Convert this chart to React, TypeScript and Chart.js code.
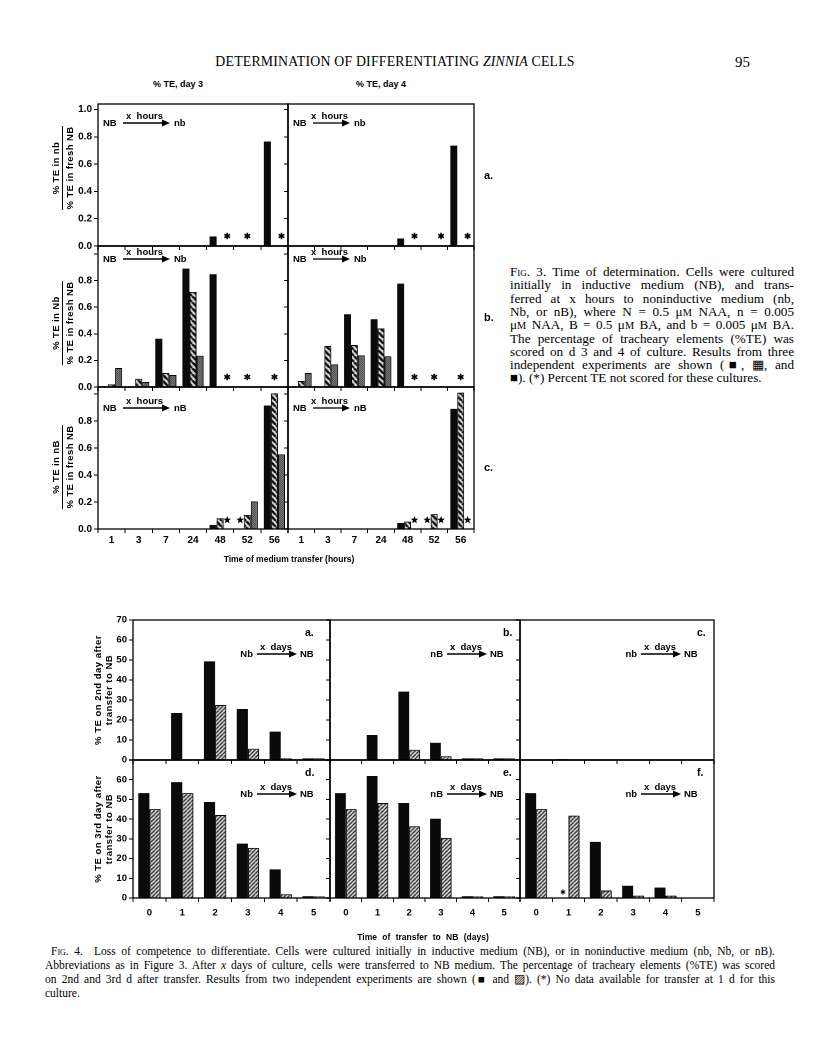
import React, { useEffect, useRef } from "react";
import { Chart, registerables } from "chart.js";
Chart.register(...registerables);

// ---------- categories & ticks ----------
const HOURS = ["1", "3", "7", "24", "48", "52", "56"];
const DAYS = ["0", "1", "2", "3", "4", "5"];
const F3_TICKS = [0, 0.2, 0.4, 0.6, 0.8, 1.0];
const F3_LABELS_A = [0, 0.2, 0.4, 0.6, 0.8, 1.0];
const F3_LABELS_BC = [0, 0.2, 0.4, 0.6, 0.8];
const F4_TICKS = [0, 10, 20, 30, 40, 50, 60, 70];
const F4_LABELS_TOP = [0, 10, 20, 30, 40, 50, 60, 70];
const F4_LABELS_BOTTOM = [0, 10, 20, 30, 40, 50, 60];

// ---------- Fig. 3 (fraction of %TE in fresh NB) ----------
// row a: NB -> nb
const f3aD3Black = [null, null, null, null, 0.07, null, 0.765];
const f3aD3Hatch = [null, null, null, null, null, null, null];
const f3aD3Stip = [null, null, null, null, null, null, null];
const f3aD3StarBlack = [0, 0, 0, 0, 0, 0, 0];
const f3aD3StarHatch = [0, 0, 0, 0, 0, 1, 0];
const f3aD3StarStip = [0, 0, 0, 0, 1, 0, 1];
const f3aD4Black = [null, null, null, null, 0.055, null, 0.735];
const f3aD4Hatch = [null, null, null, null, null, null, null];
const f3aD4Stip = [null, null, null, null, null, null, null];
const f3aD4StarBlack = [0, 0, 0, 0, 0, 0, 0];
const f3aD4StarHatch = [0, 0, 0, 0, 0, 0, 0];
const f3aD4StarStip = [0, 0, 0, 0, 1, 1, 1];
// row b: NB -> Nb
const f3bD3Black = [null, null, 0.363, 0.89, 0.848, null, null];
const f3bD3Hatch = [0.02, 0.062, 0.105, 0.715, null, null, null];
const f3bD3Stip = [0.143, 0.038, 0.09, 0.235, null, null, null];
const f3bD3StarBlack = [0, 0, 0, 0, 0, 0, 0];
const f3bD3StarHatch = [0, 0, 0, 0, 0, 1, 1];
const f3bD3StarStip = [0, 0, 0, 0, 1, 0, 0];
const f3bD4Black = [null, null, 0.547, 0.509, 0.777, null, null];
const f3bD4Hatch = [0.045, 0.308, 0.316, 0.441, null, null, null];
const f3bD4Stip = [0.105, 0.17, 0.238, 0.231, null, null, null];
const f3bD4StarBlack = [0, 0, 0, 0, 0, 0, 0];
const f3bD4StarHatch = [0, 0, 0, 0, 0, 1, 1];
const f3bD4StarStip = [0, 0, 0, 0, 1, 0, 0];
// row c: NB -> nB
const f3cD3Black = [null, null, null, null, 0.03, null, 0.915];
const f3cD3Hatch = [null, null, null, null, 0.08, 0.105, 1.005];
const f3cD3Stip = [null, null, null, null, null, 0.205, 0.553];
const f3cD3StarBlack = [0, 0, 0, 0, 0, 1, 0];
const f3cD3StarHatch = [0, 0, 0, 0, 0, 0, 0];
const f3cD3StarStip = [0, 0, 0, 0, 1, 0, 0];
const f3cD4Black = [null, null, null, null, 0.045, null, 0.89];
const f3cD4Hatch = [null, null, null, null, 0.055, 0.11, 1.01];
const f3cD4Stip = [null, null, null, null, null, null, null];
const f3cD4StarBlack = [0, 0, 0, 0, 0, 1, 0];
const f3cD4StarHatch = [0, 0, 0, 0, 0, 0, 0];
const f3cD4StarStip = [0, 0, 0, 0, 1, 1, 1];

// ---------- Fig. 4 (% TE) ----------
const f4aBlack = [null, 23.5, 49.3, 25.5, 14.2, 0.8];
const f4aHatch = [null, null, 27.5, 5.6, 0.8, 0.8];
const f4bBlack = [null, 12.5, 34.2, 8.6, 0.8, 0.8];
const f4bHatch = [null, null, 5.1, 1.9, 0.8, 0.8];
const f4cBlack = [null, 0.4, null, null, null, null];
const f4cHatch = [null, null, null, null, null, null];
const f4dBlack = [53.2, 58.8, 48.7, 27.6, 14.5, 0.9];
const f4dHatch = [45.1, 53.2, 42.1, 25.4, 1.9, 0.9];
const f4eBlack = [53.2, 61.9, 48.2, 40.2, 0.9, 0.9];
const f4eHatch = [45.1, 48.2, 36.4, 30.5, 0.9, 0.9];
const f4fBlack = [53.2, null, 28.5, 6.2, 5.3, null];
const f4fHatch = [45.1, 41.8, 3.8, 1.2, 1.2, null];
const f4fStarBlack = [0, 1, 0, 0, 0, 0];
const NO_STARS6 = [0, 0, 0, 0, 0, 0];

const SANS = '"Liberation Sans", Arial, Helvetica, sans-serif';
const SERIF = '"Liberation Serif", "Times New Roman", serif';

type Fill = "black" | "hatch3" | "hatch4" | "stip";
type Series = { values: (number | null)[]; stars: number[]; fill: Fill };
type PanelProps = {
  left: number; top: number; width: number; height: number;
  labels: string[]; series: Series[];
  yMax: number; yTicks: number[]; yLabels: number[]; decimals: number;
  showY: boolean; showX: boolean; catPct: number;
  star: "asterisk" | "star" | "small"; starLift: number;
  tickFont: number; xPad: number;
};

function makePatterns() {
  const mk = (size: number, draw: (g: CanvasRenderingContext2D, s: number) => void) => {
    const c = document.createElement("canvas");
    c.width = size; c.height = size;
    const g = c.getContext("2d")!;
    draw(g, size);
    return g.createPattern(c, "repeat")!;
  };
  const hatch3 = mk(6, (g, s) => {
    g.fillStyle = "#fff"; g.fillRect(0, 0, s, s);
    g.strokeStyle = "#000"; g.lineWidth = 2.6; g.beginPath();
    for (const o of [-s, 0, s]) { g.moveTo(o, 0); g.lineTo(o + s, s); }
    g.stroke();
  });
  const hatch4 = mk(4, (g, s) => {
    g.fillStyle = "#fff"; g.fillRect(0, 0, s, s);
    g.strokeStyle = "#000"; g.lineWidth = 1.3; g.beginPath();
    for (const o of [-s, 0, s]) { g.moveTo(o, s); g.lineTo(o + s, 0); }
    g.stroke();
  });
  const stip = mk(2, (g) => {
    g.fillStyle = "#a8a8a8"; g.fillRect(0, 0, 2, 2);
    g.fillStyle = "#222"; g.fillRect(0, 0, 1, 1); g.fillRect(1, 1, 1, 1);
  });
  return { black: "#0a0a0a", hatch3, hatch4, stip } as Record<Fill, any>;
}

function Panel(p: PanelProps) {
  const ref = useRef<HTMLCanvasElement>(null);
  const padL = p.showY ? 38 : 6, padR = 8, padT = 10, padB = p.showX ? 26 : 12;
  const cw = p.width + padL + padR, ch = p.height + padT + padB;
  useEffect(() => {
    const fills = makePatterns();
    const frame = {
      id: "frame",
      afterDatasetsDraw(chart: any) {
        const { left, top, width, height } = chart.chartArea;
        const ctx = chart.ctx;
        ctx.save(); ctx.strokeStyle = "#000"; ctx.lineWidth = 1.3;
        ctx.strokeRect(left, top, width, height); ctx.restore();
      },
    };
    const stars = {
      id: "stars",
      afterDatasetsDraw(chart: any) {
        const ctx = chart.ctx;
        const base = chart.scales.y.getPixelForValue(0);
        ctx.save(); ctx.fillStyle = "#000"; ctx.strokeStyle = "#000";
        p.series.forEach((s, di) => {
          const meta = chart.getDatasetMeta(di);
          s.stars.forEach((on, j) => {
            if (!on) return;
            const el = meta.data[j];
            if (!el || !isFinite(el.x)) return;
            const cx = el.x, cy = base - p.starLift;
            if (p.star === "star") {
              ctx.beginPath();
              for (let k = 0; k < 10; k++) {
                const r = k % 2 === 0 ? 4 : 1.7;
                const a = -Math.PI / 2 + (k * Math.PI) / 5;
                const px = cx + r * Math.cos(a), py = cy + r * Math.sin(a);
                if (k === 0) ctx.moveTo(px, py); else ctx.lineTo(px, py);
              }
              ctx.closePath(); ctx.fill();
            } else {
              const r = p.star === "small" ? 2.6 : 3.3;
              ctx.lineWidth = p.star === "small" ? 1.1 : 1.6;
              ctx.beginPath();
              for (let k = 0; k < 3; k++) {
                const a = Math.PI / 2 + (k * Math.PI) / 3;
                ctx.moveTo(cx - r * Math.cos(a), cy - r * Math.sin(a));
                ctx.lineTo(cx + r * Math.cos(a), cy + r * Math.sin(a));
              }
              ctx.stroke();
            }
          });
        });
        ctx.restore();
      },
    };
    const tickFont = { family: SANS, size: p.tickFont, weight: "bold" as const };
    const chart = new Chart(ref.current!, {
      type: "bar",
      data: {
        labels: p.labels,
        datasets: p.series.map((s) => ({
          data: s.values as any,
          backgroundColor: fills[s.fill],
          borderColor: "#000",
          borderWidth: s.fill === "black" ? 0 : 1,
          categoryPercentage: p.catPct,
          barPercentage: 1,
        })),
      },
      options: {
        animation: false,
        responsive: false,
        maintainAspectRatio: false,
        devicePixelRatio: 2,
        layout: { padding: { left: 0, top: padT, right: padR, bottom: 0 } },
        plugins: { legend: { display: false }, tooltip: { enabled: false }, title: { display: false } },
        scales: {
          x: {
            type: "category",
            offset: true,
            grid: { offset: true, drawOnChartArea: false, drawTicks: true, tickLength: 4, color: "#000", lineWidth: 1 },
            border: { display: false },
            ticks: {
              display: true, color: "#000", font: tickFont, padding: p.xPad, autoSkip: false, maxRotation: 0,
              callback: function (this: any, v: any) { return p.showX ? this.getLabelForValue(v) : ""; },
            },
            afterFit: (s: any) => { s.height = padB; },
          },
          y: {
            type: "linear",
            min: 0,
            max: p.yMax,
            grid: { drawOnChartArea: false, drawTicks: true, tickLength: 4, color: "#000", lineWidth: 1 },
            border: { display: false },
            ticks: {
              display: true, color: "#000", font: tickFont, padding: 2, autoSkip: false,
              callback: (v: any) => p.showY && p.yLabels.some((l) => Math.abs(l - Number(v)) < 1e-9) ? Number(v).toFixed(p.decimals) : "",
            },
            afterBuildTicks: (s: any) => { s.ticks = p.yTicks.map((v) => ({ value: v })); },
            afterFit: (s: any) => { s.width = padL; },
          },
        },
      } as any,
      plugins: [frame, stars],
    });
    return () => chart.destroy();
  }, []);
  return (
    <canvas ref={ref} width={cw} height={ch}
      style={{ position: "absolute", left: p.left - padL, top: p.top - padT, width: cw, height: ch }} />
  );
}

function Txt(props: { x: number; y: number; anchor?: "l" | "c" | "r"; rot?: number; style?: React.CSSProperties; children: React.ReactNode }) {
  const tx = props.anchor === "l" ? "0" : props.anchor === "r" ? "-100%" : "-50%";
  return (
    <div style={{ position: "absolute", left: props.x, top: props.y, transform: `translate(${tx},-50%) rotate(${props.rot || 0}deg)`, whiteSpace: "nowrap", lineHeight: 1, ...props.style }}>
      {props.children}
    </div>
  );
}

function Arrow({ x1, x2, y }: { x1: number; x2: number; y: number }) {
  const L = x2 - x1, head = 8;
  return (
    <svg style={{ position: "absolute", left: x1, top: y - 4, overflow: "visible" }} width={L} height={8}>
      <line x1={0} y1={4} x2={L - head + 1} y2={4} stroke="#000" strokeWidth={1.3} />
      <polygon points={`${L - head},0.5 ${L},4 ${L - head},7.5`} fill="#000" />
    </svg>
  );
}

const lbl: React.CSSProperties = { fontFamily: SANS, fontWeight: 700, fontSize: 9.5, color: "#000" };

// Fig. 3 layout
const F3_COLS = [{ x: 98, w: 190 }, { x: 288, w: 186 }];
const F3_ROWS = [
  { y: 104, h: 142, max: 1.04, lift: 10, arrowDy: 19, num: "nb", cy: 168, tag: "a.", tagY: 175 },
  { y: 246, h: 141, max: 1.06, lift: 10, arrowDy: 13, num: "Nb", cy: 323, tag: "b.", tagY: 317 },
  { y: 387, h: 142, max: 1.052, lift: 9, arrowDy: 21, num: "nB", cy: 467, tag: "c.", tagY: 467 },
];
const F3_DATA = [
  [
    [f3aD3Black, f3aD3Hatch, f3aD3Stip, f3aD3StarBlack, f3aD3StarHatch, f3aD3StarStip],
    [f3aD4Black, f3aD4Hatch, f3aD4Stip, f3aD4StarBlack, f3aD4StarHatch, f3aD4StarStip],
  ],
  [
    [f3bD3Black, f3bD3Hatch, f3bD3Stip, f3bD3StarBlack, f3bD3StarHatch, f3bD3StarStip],
    [f3bD4Black, f3bD4Hatch, f3bD4Stip, f3bD4StarBlack, f3bD4StarHatch, f3bD4StarStip],
  ],
  [
    [f3cD3Black, f3cD3Hatch, f3cD3Stip, f3cD3StarBlack, f3cD3StarHatch, f3cD3StarStip],
    [f3cD4Black, f3cD4Hatch, f3cD4Stip, f3cD4StarBlack, f3cD4StarHatch, f3cD4StarStip],
  ],
];

// Fig. 4 layout
const F4_COLS = [{ x: 133, w: 197 }, { x: 330, w: 190 }, { x: 520, w: 194 }];
const F4_ROWS = [{ y: 620, h: 140 }, { y: 760, h: 138 }];
const F4_DATA = [
  [[f4aBlack, f4aHatch, NO_STARS6], [f4bBlack, f4bHatch, NO_STARS6], [f4cBlack, f4cHatch, NO_STARS6]],
  [[f4dBlack, f4dHatch, NO_STARS6], [f4eBlack, f4eHatch, NO_STARS6], [f4fBlack, f4fHatch, f4fStarBlack]],
];
const F4_TAGS = [["a.", "b.", "c."], ["d.", "e.", "f."]];
const F4_FROM = ["Nb", "nB", "nb"];

const cap3: React.CSSProperties = { fontFamily: SERIF, fontSize: 13.2, color: "#000" };
const M = () => <span style={{ fontSize: "0.78em" }}>M</span>;
const SC = (t: string) => <span style={{ fontVariant: "small-caps" }}>{t}</span>;

export default function App() {
  const f3Lines: React.ReactNode[] = [
    <>{SC("Fig. 3.")} Time of determination. Cells were cultured</>,
    <>initially in inductive medium (NB), and trans-</>,
    <>ferred at x hours to noninductive medium (nb,</>,
    <>Nb, or nB), where N = 0.5 μ<M /> NAA, n = 0.005</>,
    <>μ<M /> NAA, B = 0.5 μ<M /> BA, and b = 0.005 μ<M /> BA.</>,
    <>The percentage of tracheary elements (%TE) was</>,
    <>scored on d 3 and 4 of culture. Results from three</>,
    <>independent experiments are shown (■, ▦, and</>,
    <>■). (*) Percent TE not scored for these cultures.</>,
  ];
  const f4Lines: React.ReactNode[] = [
    <>{SC("Fig. 4.")}&nbsp; Loss of competence to differentiate. Cells were cultured initially in inductive medium (NB), or in noninductive medium (nb, Nb, or nB).</>,
    <>Abbreviations as in Figure 3. After <i>x</i> days of culture, cells were transferred to NB medium. The percentage of tracheary elements (%TE) was scored</>,
    <>on 2nd and 3rd d after transfer. Results from two independent experiments are shown (■ and ▨). (*) No data available for transfer at 1 d for this</>,
    <>culture.</>,
  ];
  return (
    <div style={{ position: "absolute", left: 0, top: 0, width: 816, height: 1062, background: "#fff", overflow: "hidden" }}>
      {/* running head */}
      <Txt x={395} y={62} style={{ fontFamily: SERIF, fontSize: 13.8, letterSpacing: 0.2 }}>
        DETERMINATION OF DIFFERENTIATING <i>ZINNIA</i> CELLS
      </Txt>
      <Txt x={735} y={62} anchor="l" style={{ fontFamily: SERIF, fontSize: 15 }}>95</Txt>

      {/* ===== Figure 3 ===== */}
      <Txt x={178} y={84} style={{ ...lbl, fontSize: 9 }}>% TE, day 3</Txt>
      <Txt x={381} y={84} style={{ ...lbl, fontSize: 9 }}>% TE, day 4</Txt>
      {F3_ROWS.map((r, ri) =>
        F3_COLS.map((c, ci) => {
          const d = F3_DATA[ri][ci];
          return (
            <Panel key={`f3-${ri}-${ci}`} left={c.x} top={r.y} width={c.w} height={r.h}
              labels={HOURS}
              series={[
                { values: d[0] as any, stars: d[3] as any, fill: "black" },
                { values: d[1] as any, stars: d[4] as any, fill: "hatch3" },
                { values: d[2] as any, stars: d[5] as any, fill: "stip" },
              ]}
              yMax={r.max} yTicks={F3_TICKS} yLabels={ri === 0 ? F3_LABELS_A : F3_LABELS_BC} decimals={1}
              showY={ci === 0} showX={ri === 2} catPct={0.78}
              star={ri === 2 ? "star" : "asterisk"} starLift={r.lift} tickFont={10} xPad={1} />
          );
        })
      )}
      {F3_ROWS.map((r, ri) => (
        <React.Fragment key={`f3t-${ri}`}>
          <Txt x={55.5} y={r.cy} rot={-90} style={{ ...lbl, letterSpacing: 0.4 }}>% TE in {r.num}</Txt>
          <div style={{ position: "absolute", left: 62, top: r.cy - 42, width: 1, height: 84, background: "#000" }} />
          <Txt x={69.5} y={r.cy} rot={-90} style={{ ...lbl, letterSpacing: 0.4 }}>% TE in fresh NB</Txt>
          <Txt x={484} y={r.tagY} anchor="l" style={{ ...lbl, fontSize: 11 }}>{r.tag}</Txt>
          {F3_COLS.map((c, ci) => {
            const ay = r.y + r.arrowDy;
            const ax1 = c.x + 25, ax2 = c.x + (ci === 0 ? 72 : 62);
            return (
              <React.Fragment key={`f3a-${ri}-${ci}`}>
                <Txt x={c.x + 5} y={ay} anchor="l" style={lbl}>NB</Txt>
                <Arrow x1={ax1} x2={ax2} y={ay} />
                <Txt x={(ax1 + ax2) / 2 - 2} y={ay - 7} style={lbl}>x&nbsp;&nbsp;hours</Txt>
                <Txt x={ax2 + 4} y={ay} anchor="l" style={lbl}>{r.num}</Txt>
              </React.Fragment>
            );
          })}
        </React.Fragment>
      ))}
      <Txt x={289} y={559} style={{ ...lbl, fontSize: 8.5 }}>Time of medium transfer (hours)</Txt>

      {/* Figure 3 caption */}
      {f3Lines.map((ln, i) => (
        <div key={`c3-${i}`} style={{
          position: "absolute", left: 510, top: 265 + i * 13.3, width: 284, lineHeight: "13px", whiteSpace: "normal",
          textAlign: "justify", textAlignLast: i < f3Lines.length - 1 ? "justify" : "left", ...cap3,
        }}>{ln}</div>
      ))}

      {/* ===== Figure 4 ===== */}
      {F4_ROWS.map((r, ri) =>
        F4_COLS.map((c, ci) => {
          const d = F4_DATA[ri][ci];
          return (
            <Panel key={`f4-${ri}-${ci}`} left={c.x} top={r.y} width={c.w} height={r.h}
              labels={DAYS}
              series={[
                { values: d[0] as any, stars: d[2] as any, fill: "black" },
                { values: d[1] as any, stars: NO_STARS6, fill: "hatch4" },
              ]}
              yMax={70} yTicks={F4_TICKS} yLabels={ri === 0 ? F4_LABELS_TOP : F4_LABELS_BOTTOM} decimals={0}
              showY={ci === 0} showX={ri === 1} catPct={0.68}
              star="small" starLift={6} tickFont={9.5} xPad={5} />
          );
        })
      )}
      {F4_ROWS.map((r, ri) => (
        <React.Fragment key={`f4t-${ri}`}>
          <Txt x={98} y={r.y + r.h / 2} rot={-90} style={{ ...lbl, letterSpacing: 0.5 }}>
            {ri === 0 ? "% TE on 2nd day after" : "% TE on 3rd day after"}
          </Txt>
          <Txt x={109} y={r.y + r.h / 2} rot={-90} style={{ ...lbl, letterSpacing: 0.5 }}>transfer to NB</Txt>
          {F4_COLS.map((c, ci) => {
            const R = c.x + c.w;
            const ay = r.y + 34;
            return (
              <React.Fragment key={`f4a-${ri}-${ci}`}>
                <Txt x={R - (ci === 0 ? 25 : 17)} y={r.y + 12} anchor="l" style={{ ...lbl, fontSize: 10.5 }}>{F4_TAGS[ri][ci]}</Txt>
                <Txt x={R - 77} y={ay} anchor="r" style={lbl}>{F4_FROM[ci]}</Txt>
                <Arrow x1={R - 73} x2={R - 33} y={ay} />
                <Txt x={R - 54} y={ay - 7} style={lbl}>x&nbsp;&nbsp;days</Txt>
                <Txt x={R - 30} y={ay} anchor="l" style={lbl}>NB</Txt>
              </React.Fragment>
            );
          })}
        </React.Fragment>
      ))}
      <Txt x={423} y={937} style={{ ...lbl, fontSize: 8.5, wordSpacing: 3 }}>Time of transfer to NB (days)</Txt>

      {/* Figure 4 caption */}
      {f4Lines.map((ln, i) => (
        <div key={`c4-${i}`} style={{
          position: "absolute", left: i === 0 ? 51 : 45, top: 945 + i * 14, width: i === 0 ? 724 : 730, lineHeight: "13px",
          textAlign: "justify", textAlignLast: i < f4Lines.length - 1 ? "justify" : "left",
          fontFamily: SERIF, fontSize: 11.5, color: "#000",
        }}>{ln}</div>
      ))}
    </div>
  );
}
